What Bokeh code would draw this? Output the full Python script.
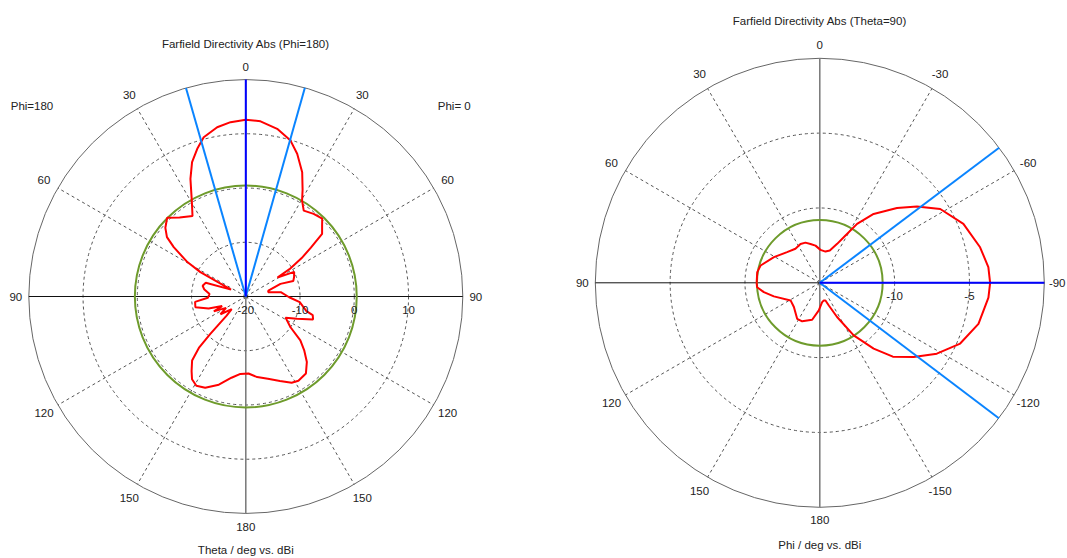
import numpy as np
from bokeh.plotting import figure
from bokeh.layouts import row
from bokeh.models import Range1d
from bokeh.core.properties import value
from bokeh.embed import file_html
from bokeh.resources import INLINE

# ---------------- data: left chart (theta cut, Phi=0 / Phi=180) ----------------
left_title = "Farfield Directivity Abs (Phi=180)"
left_xlabel = "Theta / deg vs. dBi"
left_side_labels = ["Phi=180", "Phi=  0"]
# screen angle measured clockwise from top (0..180 = Phi=0 side, 180..360 = Phi=180 side)
left_angle = [0, 4.8, 10.6, 16, 19.8, 24.4, 28, 30.4, 34, 39.4, 44.5, 47.1, 50.6, 53.1,
              55.5, 58, 59, 63, 68, 72, 70, 75.4, 79, 83, 91, 96, 103.6, 105.5, 108.8,
              113.5, 118, 124.5, 128.8, 132.8, 137, 142, 148, 152, 158, 165, 172, 178,
              184, 190, 197, 204, 209, 213, 216, 220, 222.5, 223.5, 225, 228, 235, 240,
              245, 248, 252, 258, 264, 268, 274, 280, 284, 289, 295, 298.2, 300.5, 304.4,
              307, 310.5, 315, 320, 326.5, 330.5, 334.8, 338.2, 341.8, 345.2, 350.4, 355, 360]
left_dbi = [12.6, 12.4, 11.45, 9.9, 7.96, 5.16, 2.3, 0.5, -0.9, -0.3, 0.1, -0.8, -1.8, -5.0,
            -7.5, -10.5, -13.2, -10.0, -10.4, -10.8, -13.2, -15.7, -15.8, -13.5, -12.0, -10.0,
            -8.5, -7.2, -6.9, -9.7, -11.7, -10.0, -7.1, -5.3, -3.5, -2.0, -1.7, -2.0, -3.2,
            -4.3, -5.0, -5.8, -5.7, -4.8, -3.0, -1.6, -1.2, -1.8, -3.0, -4.6, -7.3, -10.5,
            -15.0, -16.5, -14.3, -15.8, -13.5, -15.3, -12.8, -10.5, -10.6, -13.0, -13.3,
            -12.2, -11.8, -12.2, -17.0, -10.5, -7.5, -3.9, -1.8, -0.5, 0.5, -1.0, -2.2, 0.2,
            3.97, 6.67, 8.65, 10.37, 11.65, 12.26, 12.6]
left_rmin, left_rmax = -20, 20
left_ring_values = [-10, 0, 10]
left_ring_labels = [-20, -10, 0, 10]
left_tick_angles = [0, 30, 60, 90, 120, 150, 180, 210, 240, 270, 300, 330]
left_tick_texts = ["0", "30", "60", "90", "120", "150", "180", "150", "120", "90", "60", "30"]
left_main_dir = 0.0
left_beam_edges = [-16.0, 15.8]
left_green = 0.45

# ---------------- data: right chart (phi cut, Theta=90) ----------------
right_title = "Farfield Directivity Abs (Theta=90)"
right_xlabel = "Phi / deg vs. dBi"
# phi in degrees, counter-clockwise from top
right_phi = [90, 80.3, 73.7, 60.8, 46.8, 35.6, 26.4, 19.7, 13.5, 6.6, -1.2, -10.3, -17.2,
             -24, -27.7, -32.3, -38, -45.9, -51.9, -58.5, -67.7, -77.5, -84.7, -90, -95,
             -104.5, -113.4, -121.2, -128.3, -135.3, -140.7, -147.2, -153.2, -158.3, -162.2,
             -167.2, -173.1, 177.9, 168.3, 155.4, 147.8, 133.1, 121.1, 106.5, 99.5, 94, 90]
right_dbi = [-10.78, -10.76, -10.88, -11.49, -12.0, -12.2, -12.1, -12.15, -12.33, -12.5,
             -12.8, -12.88, -12.74, -12.15, -11.56, -10.34, -9.16, -7.82, -6.75, -5.56,
             -4.63, -4.03, -3.69, -3.62, -3.69, -4.05, -4.78, -5.86, -7.01, -8.06, -9.32,
             -10.82, -12.44, -13.37, -13.76, -13.79, -13.7, -13.16, -12.48, -12.17, -12.16,
             -12.63, -12.72, -11.8, -11.21, -10.8, -10.78]
right_rmin, right_rmax = -15, 0
right_ring_values = [-10, -5]
right_ring_labels = [-10, -5]
right_tick_angles = [0, 30, 60, 90, 120, 150, 180, -30, -60, -90, -120, -150]
right_tick_texts = ["0", "30", "60", "90", "120", "150", "180", "-30", "-60", "-90", "-120", "-150"]
right_main_dir = -90.0
right_beam_edges = [-53.0, -127.1]
right_green = -10.8

# ---------------- styling ----------------
FONT = value("Liberation Sans")
FSIZE = "11.5px"
TXT = "#222222"
RED = "#ff0000"
GREEN = "#6e9b2c"
BLUE = "#0000ff"
LBLUE = "#0a84ff"
GRID = "#555555"

H = 558


def polar_xy(r, ang, clockwise):
    a = np.radians(np.asarray(ang, dtype=float))
    r = np.asarray(r, dtype=float)
    s = 1.0 if clockwise else -1.0
    return s * r * np.sin(a), r * np.cos(a)


def make_panel(W, cx, cy, ppu, rmin, rmax, clockwise, angles, dbi, ring_values, ring_labels,
               tick_angles, tick_texts, main_dir, beam_edges, green, title, xlabel,
               title_up_px, xlabel_down_px, side=None):
    p = figure(width=W, height=H, output_backend="svg", toolbar_location=None,
               x_range=Range1d(-cx / ppu, (W - cx) / ppu),
               y_range=Range1d(-(H - cy) / ppu, cy / ppu),
               x_axis_type=None, y_axis_type=None, min_border=0,
               outline_line_color=None, background_fill_color="white",
               border_fill_color="white")
    p.grid.visible = False
    R = rmax - rmin

    # radial dashed spokes
    sp = [30, 60, 120, 150, 210, 240, 300, 330]
    sx, sy = polar_xy([R] * len(sp), sp, True)
    p.segment(x0=[0] * len(sp), y0=[0] * len(sp), x1=sx, y1=sy,
              line_color=GRID, line_width=1, line_dash="3 3")
    # dashed rings
    rr = [v - rmin for v in ring_values]
    p.circle(x=[0] * len(rr), y=[0] * len(rr), radius=rr, fill_color=None,
             line_color=GRID, line_width=1, line_dash="3 3")
    # outer circle
    p.circle(x=[0], y=[0], radius=[R], fill_color=None, line_color="#666666", line_width=1)
    # main axes
    p.segment(x0=[0], y0=[-R], x1=[0], y1=[R], line_color="#777777", line_width=1.5)
    p.segment(x0=[-R], y0=[0], x1=[R], y1=[0], line_color="#111111", line_width=1)
    # reference (green) circle
    p.circle(x=[0], y=[0], radius=[green - rmin], fill_color=None, line_color=GREEN,
             line_width=2)
    # pattern
    cxs, cys = polar_xy([v - rmin for v in dbi], angles, clockwise)
    p.line(cxs, cys, line_color=RED, line_width=2)
    # beam width lines + main direction
    bx, by = polar_xy([R] * len(beam_edges), beam_edges, clockwise)
    p.segment(x0=[0] * len(bx), y0=[0] * len(bx), x1=bx, y1=by, line_color=LBLUE,
              line_width=2)
    mx, my = polar_xy([R], [main_dir], clockwise)
    p.segment(x0=[0], y0=[0], x1=mx, y1=my, line_color=BLUE, line_width=2)

    # angle labels
    ta = np.radians(np.asarray(tick_angles, dtype=float))
    lr_px = R * ppu + 13 + 3.5 * np.abs(np.sin(2 * ta))
    lx, ly = polar_xy(lr_px / ppu, tick_angles, clockwise)
    cx_l, cy_l, tx_l, cx_r, cy_r, tx_r = [], [], [], [], [], []
    for x, y, t in zip(lx, ly, tick_texts):
        xpx = cx + x * ppu
        if xpx + 3.3 * len(t) > W - 1:
            cx_r.append((W - 2 - cx) / ppu)
            cy_r.append(y)
            tx_r.append(t)
        else:
            cx_l.append(x)
            cy_l.append(y)
            tx_l.append(t)
    p.text(x=cx_l, y=cy_l, text=tx_l, text_align="center", text_baseline="middle",
           text_font=FONT, text_font_size=FSIZE, text_color=TXT)
    if tx_r:
        p.text(x=cx_r, y=cy_r, text=tx_r, text_align="right", text_baseline="middle",
               text_font=FONT, text_font_size=FSIZE, text_color=TXT)

    # radial value labels along the horizontal axis
    rx, _ = polar_xy([v - rmin for v in ring_labels], [90 if clockwise else -90] * len(ring_labels), clockwise)
    p.text(x=rx, y=[-13 / ppu] * len(rx), text=[str(v) for v in ring_labels],
           text_align="center", text_baseline="middle",
           text_font=FONT, text_font_size=FSIZE, text_color=TXT)

    # title and axis caption
    p.text(x=[0], y=[title_up_px / ppu], text=[title], text_align="center",
           text_baseline="middle", text_font=FONT, text_font_size=FSIZE, text_color=TXT)
    p.text(x=[0], y=[-xlabel_down_px / ppu], text=[xlabel], text_align="center",
           text_baseline="middle", text_font=FONT, text_font_size=FSIZE, text_color=TXT)
    if side:
        p.text(x=[-213.8 / ppu], y=[190.7 / ppu], text=[side[0]], text_align="center",
               text_baseline="middle", text_font=FONT, text_font_size=FSIZE, text_color=TXT)
        p.text(x=[192 / ppu], y=[190.7 / ppu], text=[side[1]], text_align="left",
               text_baseline="middle", text_font=FONT, text_font_size=FSIZE, text_color=TXT)
    return p


left = make_panel(538, 245.3, 296.0, 217 / 40, left_rmin, left_rmax, True,
                  left_angle, left_dbi, left_ring_values, left_ring_labels,
                  left_tick_angles, left_tick_texts, left_main_dir, left_beam_edges,
                  left_green, left_title, left_xlabel, 252.5, 253.0, side=left_side_labels)

right = make_panel(529, 281.3, 282.3, 224.5 / 15, right_rmin, right_rmax, False,
                   right_phi, right_dbi, right_ring_values, right_ring_labels,
                   right_tick_angles, right_tick_texts, right_main_dir, right_beam_edges,
                   right_green, right_title, right_xlabel, 261.8, 262.0)

layout = row(left, right, spacing=0)
open("out.html", "w").write(file_html(layout, INLINE))
